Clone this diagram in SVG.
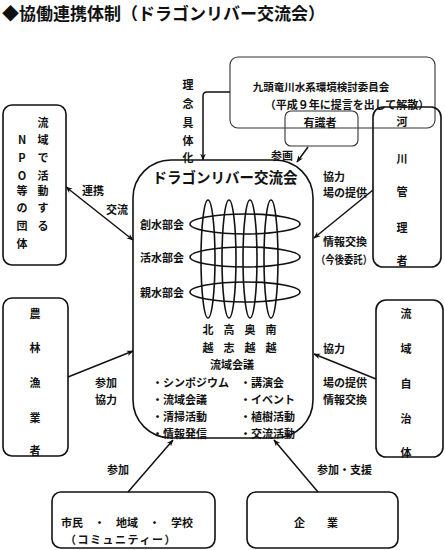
<svg xmlns="http://www.w3.org/2000/svg" width="445" height="550" viewBox="0 0 445 550">
<defs>
<style>
text{font-family:"Noto Sans CJK JP","Noto Sans",sans-serif;font-weight:700;fill:#111;dominant-baseline:central}
.s{font-size:11px}
.m{text-anchor:middle}
.box{fill:none;stroke:#111;stroke-width:1.6}
.thin{fill:none;stroke:#333;stroke-width:1.1}
.el{fill:none;stroke:#111;stroke-width:1.6}
.con{fill:none;stroke:#111;stroke-width:1.5}
</style>
<marker id="ah" viewBox="0 0 10 10" refX="9" refY="5" markerWidth="7" markerHeight="7" orient="auto-start-reverse" markerUnits="userSpaceOnUse">
<path d="M0,1 L10,5 L0,9 L3,5 Z" fill="#111"/>
</marker>
</defs>
<rect width="445" height="550" fill="#fff"/>
<text x="2" y="12" style="font-size:17px">◆協働連携体制（ドラゴンリバー交流会）</text>

<g id="committee">
<rect class="thin" x="230" y="57" width="205" height="71" rx="8"/>
<text class="m" x="321" y="86" style="font-size:10.5px">九頭竜川水系環境検討委員会</text>
<text class="m" x="347" y="104" style="font-size:11px">（平成９年に提言を出して解散）</text>
</g>

<g id="experts">
<rect class="thin" x="285" y="111" width="73" height="35" rx="6"/>
<text class="m s" x="320" y="122">有識者</text>
</g>

<g id="river">
<rect class="box" x="373" y="107" width="68" height="160" rx="10"/>
<text class="m s"><tspan x="402" y="121">河</tspan><tspan x="402" y="158">川</tspan><tspan x="402" y="191">管</tspan><tspan x="402" y="227">理</tspan><tspan x="402" y="260">者</tspan></text>
</g>

<g id="npo">
<rect class="box" x="3" y="105" width="63" height="160" rx="9"/>
<text class="m s"><tspan x="43" y="122">流</tspan><tspan x="43" y="139">域</tspan><tspan x="43" y="157">で</tspan><tspan x="43" y="175">活</tspan><tspan x="43" y="190">動</tspan><tspan x="43" y="207">す</tspan><tspan x="43" y="225">る</tspan></text>
<text class="m s"><tspan x="22" y="139">N</tspan><tspan x="22" y="157">P</tspan><tspan x="22" y="175">O</tspan><tspan x="22" y="190">等</tspan><tspan x="22" y="207">の</tspan><tspan x="22" y="225">団</tspan><tspan x="22" y="243">体</tspan></text>
</g>

<g id="farm">
<rect class="box" x="3" y="298" width="65" height="158" rx="9"/>
<text class="m s"><tspan x="35" y="313">農</tspan><tspan x="35" y="347">林</tspan><tspan x="35" y="382">漁</tspan><tspan x="35" y="417">業</tspan><tspan x="35" y="450">者</tspan></text>
</g>

<g id="localgov">
<rect class="box" x="376" y="300" width="67" height="157" rx="10"/>
<text class="m s"><tspan x="406" y="313">流</tspan><tspan x="406" y="348">域</tspan><tspan x="406" y="383">自</tspan><tspan x="406" y="418">治</tspan><tspan x="406" y="452">体</tspan></text>
</g>

<g id="citizens">
<rect class="box" x="52" y="492" width="163" height="56" rx="9"/>
<text class="m s" x="127" y="522" xml:space="preserve">市民　・　地域　・　学校</text>
<text class="m s" x="121" y="539" style="letter-spacing:1.5px">（コミュニティー）</text>
</g>

<g id="company">
<rect class="box" x="247" y="492" width="151" height="56" rx="9"/>
<text class="m s" x="316" y="522" xml:space="preserve">企　　業</text>
</g>

<g id="dragon">
<rect class="box" x="133" y="160" width="180" height="278" rx="38"/>
<text class="m" x="225" y="176" style="font-size:14.5px">ドラゴンリバー交流会</text>
<ellipse class="el" cx="208" cy="259" rx="7" ry="59"/>
<ellipse class="el" cx="229" cy="259" rx="7" ry="59"/>
<ellipse class="el" cx="250" cy="259" rx="7" ry="59"/>
<ellipse class="el" cx="271" cy="259" rx="7" ry="59"/>
<ellipse class="el" cx="245" cy="224" rx="55" ry="10"/>
<ellipse class="el" cx="245" cy="257" rx="55" ry="10"/>
<ellipse class="el" cx="245" cy="292" rx="55" ry="10"/>
<text class="s" x="140" y="224">創水部会</text>
<text class="s" x="140" y="257">活水部会</text>
<text class="s" x="140" y="292">親水部会</text>
<text class="m s"><tspan x="208" y="329">北</tspan><tspan x="229" y="329">高</tspan><tspan x="250" y="329">奥</tspan><tspan x="271" y="329">南</tspan></text>
<text class="m s"><tspan x="208" y="347">越</tspan><tspan x="229" y="347">志</tspan><tspan x="250" y="347">越</tspan><tspan x="271" y="347">越</tspan></text>
<text class="m s" x="232" y="364">流域会議</text>
<text class="s"><tspan x="152" y="382">・シンポジウム</tspan><tspan x="152" y="399">・流域会議</tspan><tspan x="152" y="416">・清掃活動</tspan><tspan x="152" y="433">・情報発信</tspan></text>
<text class="s"><tspan x="240" y="382">・講演会</tspan><tspan x="240" y="399">・イベント</tspan><tspan x="240" y="416">・植樹活動</tspan><tspan x="240" y="433">・交流活動</tspan></text>
</g>

<g id="connectors">
<path class="con" d="M230,92 H207 Q203,92 203,96 V160" marker-end="url(#ah)"/>
<line class="con" x1="308" y1="147" x2="297" y2="162" marker-end="url(#ah)"/>
<line class="con" x1="66" y1="187" x2="133" y2="240" marker-start="url(#ah)" marker-end="url(#ah)"/>
<line class="con" x1="373" y1="190" x2="314" y2="238" marker-end="url(#ah)"/>
<line class="con" x1="68" y1="377" x2="133" y2="351" marker-end="url(#ah)"/>
<line class="con" x1="376" y1="379" x2="314" y2="354" marker-end="url(#ah)"/>
<line class="con" x1="128" y1="492" x2="173" y2="440" marker-end="url(#ah)"/>
<line class="con" x1="318" y1="492" x2="274" y2="440" marker-end="url(#ah)"/>
<text class="m s"><tspan x="188" y="84">理</tspan><tspan x="188" y="103">念</tspan><tspan x="188" y="122">具</tspan><tspan x="188" y="140">体</tspan><tspan x="188" y="157">化</tspan></text>
<text class="m s" x="282" y="155">参画</text>
<text class="m s" x="93" y="190">連携</text>
<text class="m s" x="117" y="209">交流</text>
<text class="s" x="323" y="176">協力</text>
<text class="s" x="323" y="192">場の提供</text>
<text class="s" x="323" y="241">情報交換</text>
<text class="s" x="316" y="259" textLength="56" lengthAdjust="spacingAndGlyphs">（今後委託）</text>
<text class="s" x="95" y="382">参加</text>
<text class="s" x="95" y="399">協力</text>
<text class="s" x="323" y="348">協力</text>
<text class="s" x="323" y="382">場の提供</text>
<text class="s" x="323" y="399">情報交換</text>
<text class="s" x="107" y="469">参加</text>
<text class="s" x="317" y="469">参加・支援</text>
</g>
</svg>
